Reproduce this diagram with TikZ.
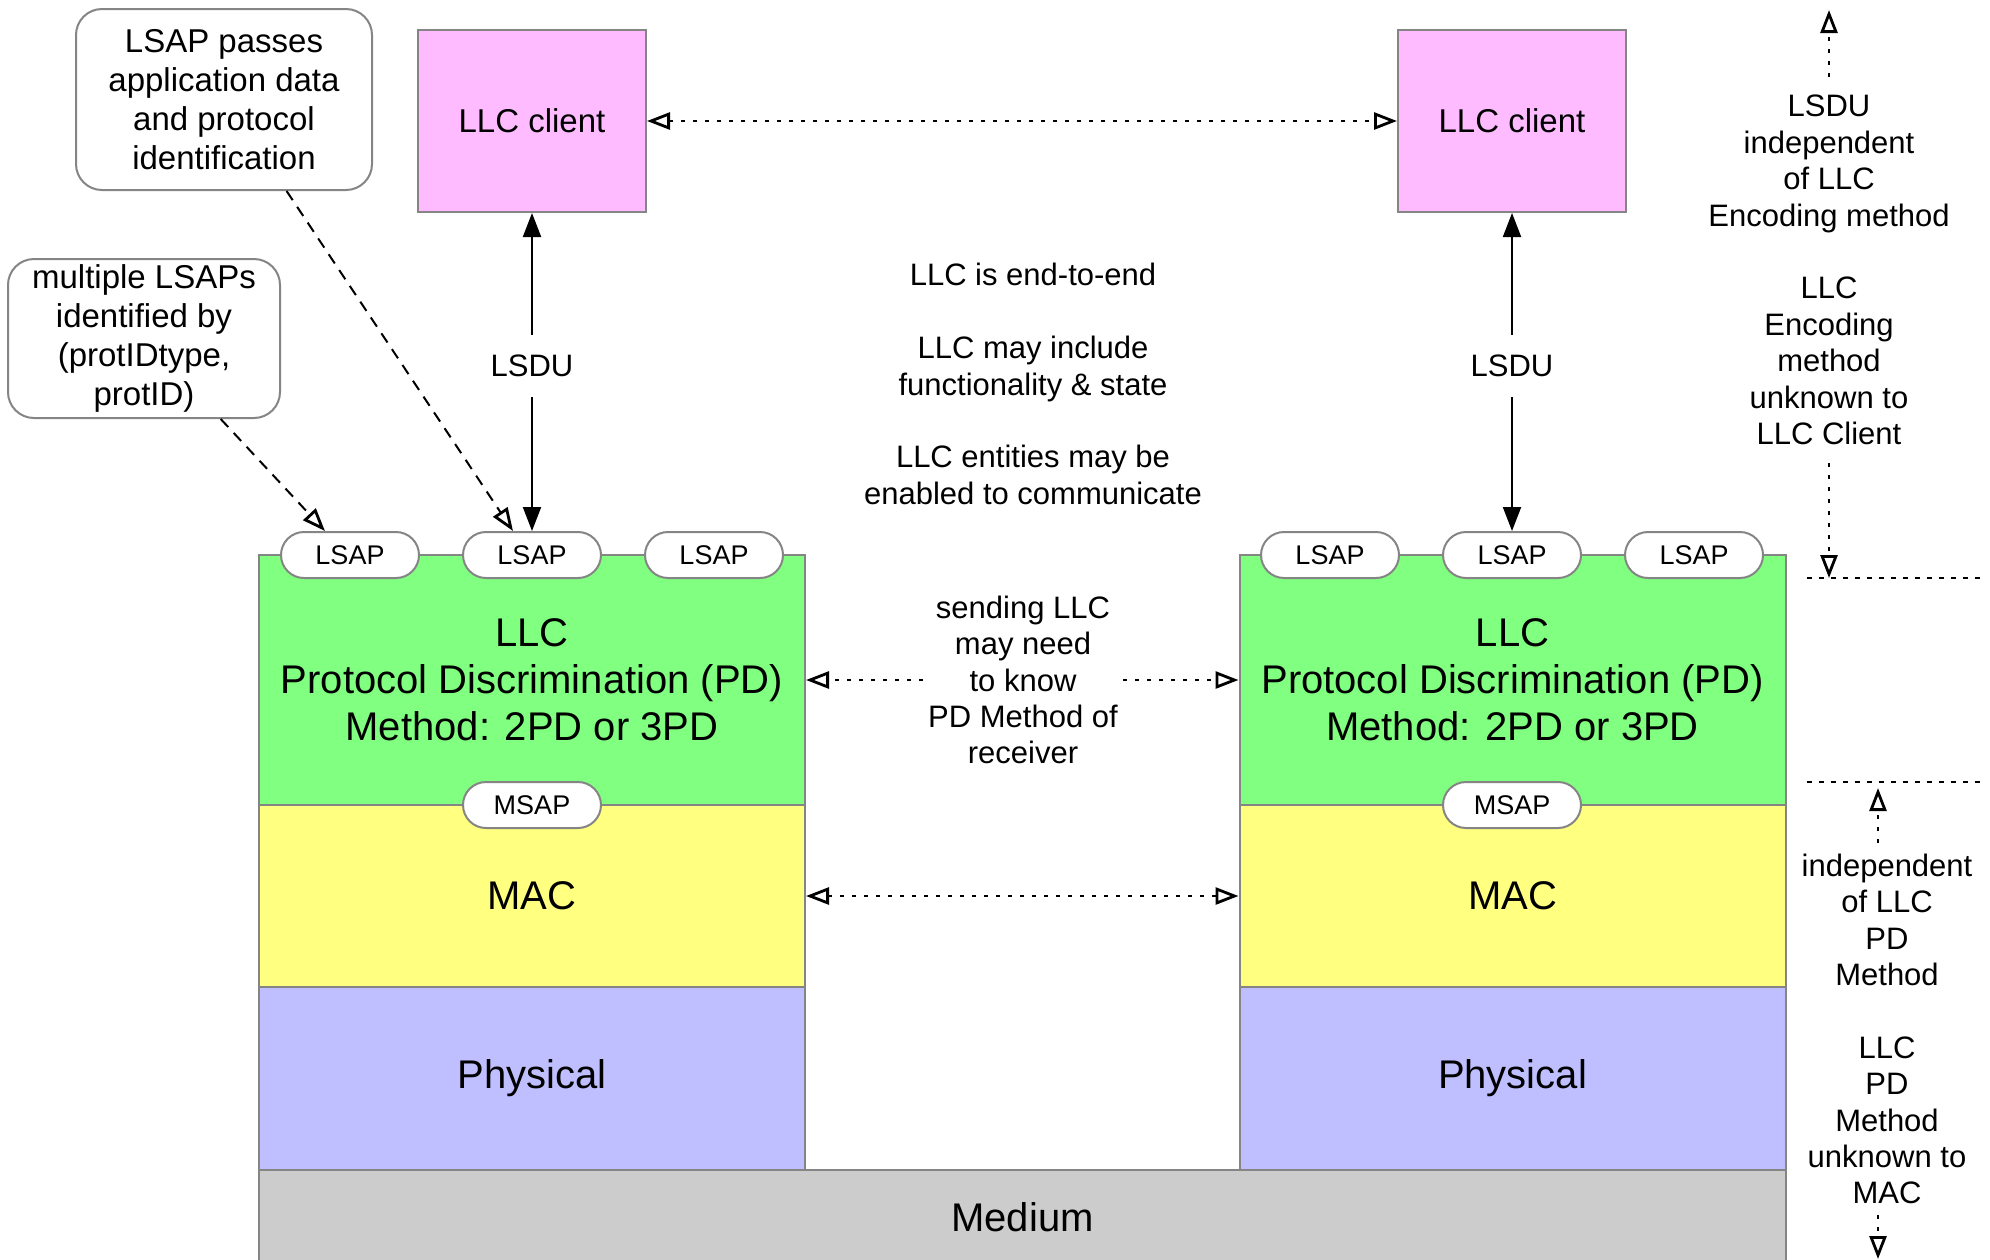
\documentclass[tikz,border=0pt]{standalone}
\usepackage{fontspec}
\setmainfont{Liberation Sans}
\usetikzlibrary{arrows.meta,calc}
\definecolor{llcgreen}{HTML}{80FF80}
\definecolor{macyellow}{HTML}{FFFF80}
\definecolor{phyblue}{HTML}{BFBFFF}
\definecolor{clientpink}{HTML}{FFBBFF}
\definecolor{medgray}{HTML}{CCCCCC}
\definecolor{edgegray}{HTML}{858585}
\begin{document}
\begin{tikzpicture}[x=0.5pt,y=-0.5pt,
  layer/.style={draw=edgegray, line width=1pt, inner sep=0pt, align=center, minimum width=273pt, font=\fontsize{20}{23.5}\selectfont},
  client/.style={draw=edgegray, line width=1pt, fill=clientpink, minimum width=114pt, minimum height=91pt, font=\fontsize{16.5}{19.5}\selectfont},
  sap/.style={draw=edgegray, line width=1pt, fill=white, rounded corners=11.5pt, minimum width=69pt, minimum height=23pt, inner sep=0pt, font=\fontsize{13.5}{15}\selectfont},
  callout/.style={draw=edgegray, line width=1pt, fill=white, rounded corners=13pt, align=center, inner sep=0pt, font=\fontsize{16.5}{19.5}\selectfont},
  note/.style={align=center, font=\fontsize{15.5}{18.2}\selectfont},
  solidtip/.tip={Triangle[length=12pt,width=9pt]},
  opentip/.tip={Triangle[open,length=11.5pt,width=8.5pt,line width=1.4pt]},
  solidarrows/.style={line width=1pt, solidtip-solidtip},
  dotarrows/.style={line width=1pt, dash pattern=on 2pt off 4pt, opentip-opentip},
  dotarrow/.style={line width=1pt, dash pattern=on 2pt off 4pt, -opentip},
  dasharrow/.style={line width=1pt, dash pattern=on 5.5pt off 4pt, -opentip},
  hdash/.style={line width=1pt, dash pattern=on 2.5pt off 3.5pt}
]
\useasboundingbox (0,0) rectangle (1990,1259);
\fill[white] (0,0) rectangle (1990,1259);

% medium
\node[layer, fill=medgray, minimum width=763.5pt, minimum height=47pt] (medium) at (1022.5,1217) {Medium};

% left stack
\node[layer, fill=llcgreen, minimum height=125pt] (llcL) at (532,680) {LLC\\Protocol Discrimination (PD)\\Method: 2PD or 3PD};
\node[layer, fill=macyellow, minimum height=91pt] (macL) at (532,896) {MAC};
\node[layer, fill=phyblue, minimum height=91.5pt] (phyL) at (532,1078.5) {Physical};
% right stack
\node[layer, fill=llcgreen, minimum height=125pt] (llcR) at (1512.5,680) {LLC\\Protocol Discrimination (PD)\\Method: 2PD or 3PD};
\node[layer, fill=macyellow, minimum height=91pt] (macR) at (1512.5,896) {MAC};
\node[layer, fill=phyblue, minimum height=91.5pt] (phyR) at (1512.5,1078.5) {Physical};

% SAPs
\node[sap] (lsapL1) at (350,555) {LSAP};
\node[sap] (lsapL2) at (532,555) {LSAP};
\node[sap] (lsapL3) at (714,555) {LSAP};
\node[sap] (lsapR1) at (1330,555) {LSAP};
\node[sap] (lsapR2) at (1512,555) {LSAP};
\node[sap] (lsapR3) at (1694,555) {LSAP};
\node[sap] (msapL) at (532,805) {MSAP};
\node[sap] (msapR) at (1512,805) {MSAP};

% clients
\node[client] (clientL) at (532,121) {LLC client};
\node[client] (clientR) at (1512,121) {LLC client};

% callouts
\node[callout, minimum width=148pt, minimum height=90.5pt] (c1) at (224,99.5) {LSAP passes\\application data\\and protocol\\identification};
\node[callout, minimum width=136pt, minimum height=79.5pt] (c2) at (144,338.5) {multiple LSAPs\\identified by\\(protIDtype,\\protID)};

% connectors
\draw[dotarrows] (clientL.east) -- (clientR.west);
\draw[solidarrows] (clientL.south) -- node[note, fill=white, inner xsep=1pt, inner ysep=10pt, pos=0.48] {LSDU} (lsapL2.north);
\draw[solidarrows] (clientR.south) -- node[note, fill=white, inner xsep=1pt, inner ysep=10pt, pos=0.48] {LSDU} (lsapR2.north);
\draw[dasharrow] ($(c1.south west)!0.71!(c1.south east)$) -- ($(lsapL2.north)+(-19,0)$);
\draw[dasharrow] ($(c2.south west)!0.78!(c2.south east)$) -- ($(lsapL1.north)+(-25,0)$);

% centre texts
\node[note] (e2e) at (1033,384) {LLC is end-to-end\\[18.2pt]LLC may include\\functionality \& state\\[18.2pt]LLC entities may be\\enabled to communicate};
\node[note, inner xsep=2.5pt] (send) at (1023,680) {sending LLC\\may need\\to know\\PD Method of\\receiver};
\draw[dotarrow] (send.west) -- (send.west -| llcL.east);
\draw[dotarrow] (send.east) -- (send.east -| llcR.west);
\draw[dotarrows] (macL.east) -- (macR.west);

% right annotations
\node[note, inner sep=9pt] (ann1) at (1829,270) {LSDU\\independent\\of LLC\\Encoding method\\[18.2pt]LLC\\Encoding\\method\\unknown to\\LLC Client};
\coordinate (t1) at (1829,10);
\coordinate (b1) at (1829,578);
\draw[dotarrow] (ann1.north) -- (t1);
\draw[dotarrow] (ann1.south) -- (b1);

\node[note, inner sep=5pt] (ann2) at (1887,1029) {independent\\of LLC\\PD\\Method\\[18.2pt]LLC\\PD\\Method\\unknown to\\MAC};
\coordinate (t2) at (1878,788);
\coordinate (b2) at (1878,1259);
\draw[dotarrow] (ann2.north -| t2) -- (t2);
\draw[dotarrow] (ann2.south -| t2) -- (b2);

\coordinate (h1a) at (1807,578);
\coordinate (h1b) at (1980,578);
\coordinate (h2a) at (1807,782);
\coordinate (h2b) at (1980,782);
\draw[hdash] (h1a) -- (h1b);
\draw[hdash] (h2a) -- (h2b);
\end{tikzpicture}
\end{document}
